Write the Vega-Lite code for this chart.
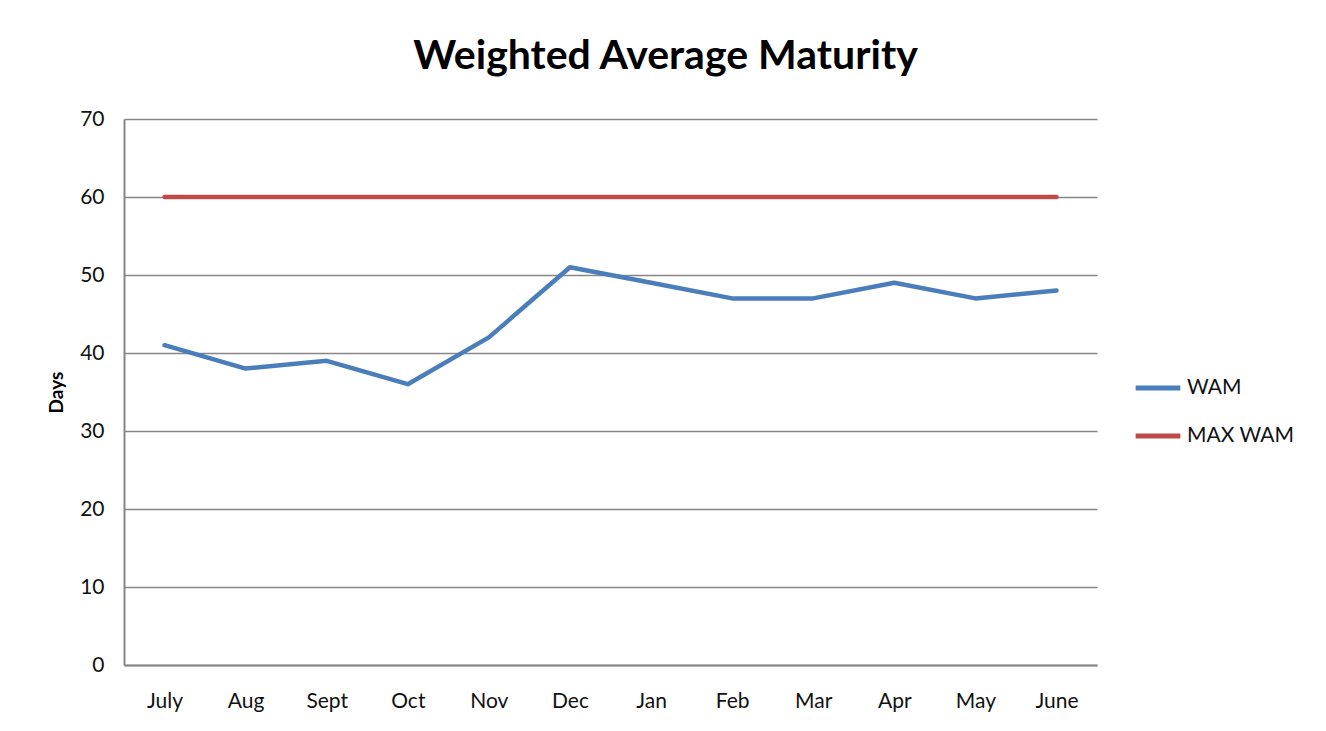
{
  "$schema": "https://vega.github.io/schema/vega-lite/v6.json",
  "width": 973,
  "height": 546,
  "autosize": {"type": "none"},
  "padding": {"left": 124, "top": 119, "right": 229, "bottom": 66},
  "background": "white",
  "title": {
    "text": "Weighted Average Maturity",
    "font": "Lato",
    "fontSize": 41,
    "fontWeight": "bold",
    "color": "black",
    "anchor": "middle",
    "dx": 55,
    "offset": 30
  },
  "data": {
    "values": [
      {"month": "July", "series": "WAM", "days": 41},
      {"month": "Aug", "series": "WAM", "days": 38},
      {"month": "Sept", "series": "WAM", "days": 39},
      {"month": "Oct", "series": "WAM", "days": 36},
      {"month": "Nov", "series": "WAM", "days": 42},
      {"month": "Dec", "series": "WAM", "days": 51},
      {"month": "Jan", "series": "WAM", "days": 49},
      {"month": "Feb", "series": "WAM", "days": 47},
      {"month": "Mar", "series": "WAM", "days": 47},
      {"month": "Apr", "series": "WAM", "days": 49},
      {"month": "May", "series": "WAM", "days": 47},
      {"month": "June", "series": "WAM", "days": 48},
      {"month": "July", "series": "MAX WAM", "days": 60},
      {"month": "Aug", "series": "MAX WAM", "days": 60},
      {"month": "Sept", "series": "MAX WAM", "days": 60},
      {"month": "Oct", "series": "MAX WAM", "days": 60},
      {"month": "Nov", "series": "MAX WAM", "days": 60},
      {"month": "Dec", "series": "MAX WAM", "days": 60},
      {"month": "Jan", "series": "MAX WAM", "days": 60},
      {"month": "Feb", "series": "MAX WAM", "days": 60},
      {"month": "Mar", "series": "MAX WAM", "days": 60},
      {"month": "Apr", "series": "MAX WAM", "days": 60},
      {"month": "May", "series": "MAX WAM", "days": 60},
      {"month": "June", "series": "MAX WAM", "days": 60}
    ]
  },
  "mark": {"type": "line", "strokeWidth": 4.5, "strokeCap": "round", "strokeJoin": "round"},
  "encoding": {
    "x": {
      "field": "month",
      "type": "nominal",
      "sort": ["July","Aug","Sept","Oct","Nov","Dec","Jan","Feb","Mar","Apr","May","June"],
      "scale": {"type": "point", "padding": 0.5},
      "axis": {
        "title": null,
        "labelAngle": 0,
        "labelFont": "Lato",
        "labelFontSize": 21,
        "labelColor": "#111",
        "labelPadding": 25,
        "ticks": false,
        "grid": false,
        "domainColor": "#868686",
        "domainWidth": 2
      }
    },
    "y": {
      "field": "days",
      "type": "quantitative",
      "scale": {"domain": [0, 70], "nice": false},
      "axis": {
        "title": "Days",
        "titleFont": "Lato",
        "titleFontSize": 19,
        "titleFontWeight": "bold",
        "titleColor": "black",
        "titlePadding": 13,
        "values": [0,10,20,30,40,50,60,70],
        "labelFont": "Lato",
        "labelFontSize": 21,
        "labelColor": "#111",
        "labelPadding": 20,
        "ticks": false,
        "grid": true,
        "gridColor": "#868686",
        "gridWidth": 1.5,
        "domainColor": "#868686",
        "domainWidth": 2
      }
    },
    "color": {
      "field": "series",
      "type": "nominal",
      "sort": ["WAM", "MAX WAM"],
      "scale": {"domain": ["WAM", "MAX WAM"], "range": ["#4A7EBB", "#BE4B48"]},
      "legend": {
        "title": null,
        "orient": "none",
        "legendX": 1009,
        "legendY": 244,
        "symbolType": "stroke",
        "symbolStrokeWidth": 5,
        "symbolSize": 2000,
        "labelFont": "Lato",
        "labelFontSize": 21,
        "labelColor": "#111",
        "labelOffset": 4,
        "rowPadding": 13
      }
    }
  },
  "config": {"view": {"stroke": null}}
}
